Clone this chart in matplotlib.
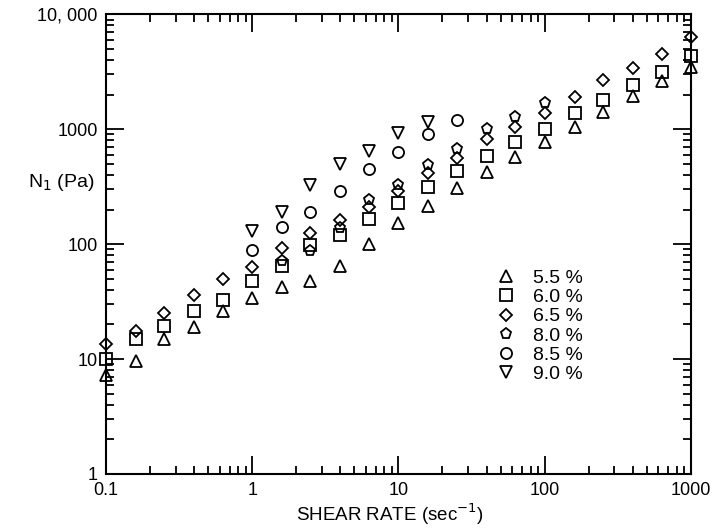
import matplotlib
matplotlib.use("Agg")
import matplotlib.pyplot as plt
from matplotlib.ticker import FixedLocator, FixedFormatter, LogLocator, NullFormatter

plt.rcParams['font.family'] = ['Liberation Sans', 'DejaVu Sans']

# shear rate (1/s)
shear = [0.1, 0.16, 0.25, 0.4, 0.63, 1.0, 1.6, 2.5, 4.0, 6.3, 10,
         16, 25, 40, 63, 100, 160, 250, 400, 630, 1000]

# N1 (Pa) per concentration
n1_55 = [7.2, 9.7, 15, 19, 26, 34, 42, 48, 65, 100, 154,
         216, 310, 428, 575, 768, 1035, 1410, 1960, 2610, 3500]
n1_60 = [10, 15, 19.5, 26.3, 32.7, 47.7, 64, 99, 119, 165, 230,
         314, 437, 582, 778, 1000, 1370, 1790, 2440, 3120, 4350]
n1_65 = [13.5, 17.7, 25, 36, 50, 63, 92, 124, 162, 211, 288,
         418, 559, 820, 1040, 1390, 1910, 2660, 3400, 4520, 6300]
shear_80 = [1.6, 2.5, 4.0, 6.3, 10, 16, 25, 40, 63, 100]
n1_80 = [71, 88, 137, 241, 324, 490, 672, 1000, 1280, 1675]
shear_85 = [1.0, 1.6, 2.5, 4.0, 6.3, 10, 16, 25]
n1_85 = [89, 142, 191, 288, 452, 637, 906, 1200]
shear_90 = [1.0, 1.6, 2.5, 4.0, 6.3, 10, 16]
n1_90 = [129, 191, 324, 499, 650, 918, 1150]

labels = ["5.5 %", "6.0 %", "6.5 %", "8.0 %", "8.5 %", "9.0 %"]

fig = plt.figure(figsize=(7.16, 5.29), dpi=100)
ax = fig.add_axes([0.148, 0.104, 0.817, 0.869])

series = [
    (shear, n1_55, '^'),
    (shear, n1_60, 's'),
    (shear, n1_65, 'D'),
    (shear_80, n1_80, 'p'),
    (shear_85, n1_85, 'o'),
    (shear_90, n1_90, 'v'),
]
for (xs, ys, m), lab in zip(series, labels):
    ms = 6.5 if m == 'D' else 8
    ax.plot(xs, ys, linestyle='none', marker=m, ms=ms, mfc='none',
            mec='black', mew=1.3, label=lab, clip_on=False)

ax.set_xscale('log')
ax.set_yscale('log')
ax.set_xlim(0.1, 1000)
ax.set_ylim(1, 10000)

ax.xaxis.set_major_locator(FixedLocator([0.1, 1, 10, 100, 1000]))
ax.xaxis.set_major_formatter(FixedFormatter(["0.1", "1", "10", "100", "1000"]))
ax.yaxis.set_major_locator(FixedLocator([1, 10, 100, 1000, 10000]))
ax.yaxis.set_major_formatter(FixedFormatter(["1", "10", "100", "1000", "10, 000"]))
for a in (ax.xaxis, ax.yaxis):
    a.set_minor_locator(LogLocator(base=10, subs=range(2, 10)))
    a.set_minor_formatter(NullFormatter())

ax.tick_params(which='both', direction='in', top=True, right=True,
               labelsize=13, width=1.3)
ax.tick_params(which='major', length=13)
ax.tick_params(which='minor', length=6)
ax.tick_params(axis='x', which='major', pad=6)
ax.tick_params(axis='y', which='major', pad=6)
for s in ax.spines.values():
    s.set_linewidth(1.5)

fig.text(0.545, 0.027, "SHEAR RATE (sec$^{-1}$)", fontsize=13.5,
         ha='center', va='center')
fig.text(0.085, 0.655, "N$_1$ (Pa)", fontsize=14, ha='center', va='center')

ax.legend(loc='upper left', bbox_to_anchor=(0.668, 0.445), frameon=False,
          fontsize=14, handlelength=1.0, handletextpad=0.85,
          labelspacing=0.08, borderpad=0, borderaxespad=0)

fig.savefig("out.png", dpi=100)
